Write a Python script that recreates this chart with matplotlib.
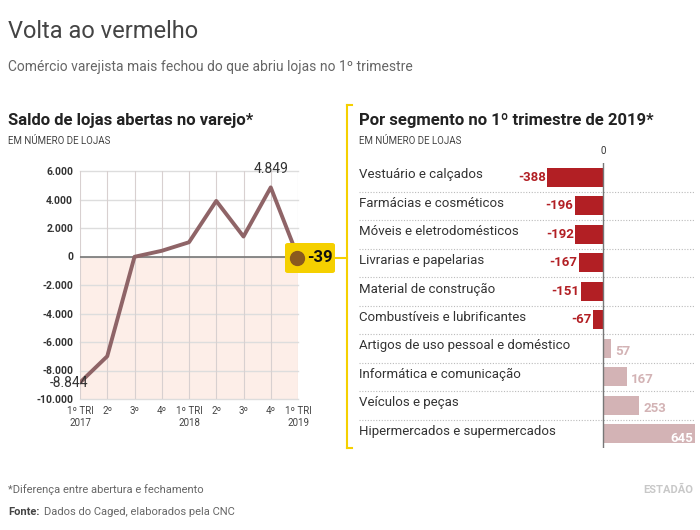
import matplotlib
matplotlib.use('Agg')
import matplotlib.pyplot as plt
from matplotlib.patches import FancyBboxPatch

plt.rcParams['font.family'] = ['Roboto', 'DejaVu Sans']

# quarterly balance
quarters = ['1º TRI\n2017', '2º', '3º', '4º', '1º TRI\n2018', '2º', '3º', '4º', '1º TRI\n2019']
saldo = [-8844, -7000, -20, 400, 1000, 3900, 1400, 4849, -39]
yticks = [6000, 4000, 2000, 0, -2000, -4000, -6000, -8000, -10000]
ylabels = ['6.000', '4.000', '2.000', '0', '-2.000', '-4.000', '-6.000', '-8.000', '-10.000']

# segments
segmentos = ['Vestuário e calçados', 'Farmácias e cosméticos', 'Móveis e eletrodomésticos',
             'Livrarias e papelarias', 'Material de construção', 'Combustíveis e lubrificantes',
             'Artigos de uso pessoal e doméstico', 'Informática e comunicação',
             'Veículos e peças', 'Hipermercados e supermercados']
valores = [-388, -196, -192, -167, -151, -67, 57, 167, 253, 645]

W, H = 700, 530
fig = plt.figure(figsize=(7, 5.3), dpi=100)

def fx(px): return px / W
def fy(py): return 1 - py / H

fig.text(fx(8), fy(32), 'Volta ao vermelho', fontsize=17, color='#444444', va='center')
fig.text(fx(8), fy(67), 'Comércio varejista mais fechou do que abriu lojas no 1º trimestre',
         fontsize=10, color='#666666', va='center')
fig.text(fx(8), fy(120), 'Saldo de lojas abertas no varejo*', fontsize=12, fontweight='bold', color='#222222', va='center')
fig.text(fx(8), fy(141), 'EM NÚMERO DE LOJAS', fontsize=7, color='#444444', va='center')
fig.text(fx(359), fy(120), 'Por segmento no 1º trimestre de 2019*', fontsize=12, fontweight='bold', color='#222222', va='center')
fig.text(fx(359), fy(141), 'EM NÚMERO DE LOJAS', fontsize=7, color='#444444', va='center')
fig.text(fx(8), fy(490), '*Diferença entre abertura e fechamento', fontsize=8, color='#666666', va='center')
fig.text(fx(8), fy(512), 'Fonte:', fontsize=8, fontweight='bold', color='#444444', va='center')
fig.text(fx(44), fy(512), 'Dados do Caged, elaborados pela CNC', fontsize=8, color='#666666', va='center')
fig.text(fx(693), fy(490), 'ESTADÃO', fontsize=8, fontweight='bold', color='#c8c8c8', va='center', ha='right')

# yellow divider
yel = '#f5d000'
fig.add_artist(plt.Line2D([fx(347), fx(347)], [fy(105), fy(448)], color=yel, lw=1.5))
fig.add_artist(plt.Line2D([fx(347), fx(352)], [fy(105), fy(105)], color=yel, lw=1.5))
fig.add_artist(plt.Line2D([fx(347), fx(352)], [fy(448), fy(448)], color=yel, lw=1.5))
fig.add_artist(plt.Line2D([fx(330), fx(347)], [fy(258), fy(258)], color=yel, lw=1.5))

# left chart
ax = fig.add_axes([fx(80), fy(399), fx(298) - fx(80), fy(171) - fy(399)])
x = list(range(len(saldo)))
ax.set_xlim(0, 8)
ax.set_ylim(-10000, 6000)
ax.axhspan(-10000, 0, color='#fdeee8', zorder=0)
for t in yticks:
    ax.axhline(t, color='#dddddd', lw=1, zorder=1, clip_on=False)
for i in x:
    ax.axvline(i, color='#d8d0d0', lw=0.8, zorder=1)
ax.axhline(0, color='#777777', lw=1.2, zorder=2)
ax.plot(x, saldo, color='#8f6467', lw=2.8, zorder=3, solid_capstyle='round')
ax.set_yticks(yticks)
ax.set_yticklabels(ylabels, fontsize=7.5, color='#333333', fontweight='bold')
ax.set_xticks(x)
ax.set_xticklabels(quarters, fontsize=7, color='#444444', linespacing=1.2)
ax.tick_params(length=0, pad=5)
for s in ax.spines.values():
    s.set_visible(False)
ax.annotate('-8.844', (0, saldo[0]), xytext=(-22, 0), textcoords='offset points',
            fontsize=10, color='#333333', ha='left', va='center')
ax.annotate('4.849', (7, saldo[7]), xytext=(0, 8), textcoords='offset points',
            fontsize=10, color='#333333', ha='center', va='bottom')
box = FancyBboxPatch((fx(285), fy(273)), fx(335) - fx(285), fy(243) - fy(273),
                     boxstyle='round,pad=0,rounding_size=0.004', transform=fig.transFigure,
                     facecolor=yel, edgecolor='none', zorder=5)
fig.add_artist(box)
fig.add_artist(plt.Line2D([fx(297)], [fy(258)], marker='o', ms=10, color='#8a5a1e', zorder=6))
fig.text(fx(307), fy(258), '-39', fontsize=12, fontweight='bold', color='#111111', va='center', zorder=7)

# right chart
ax2 = fig.add_axes([fx(359), fy(448), fx(695) - fx(359), fy(163) - fy(448)])
ax2.set_xlim(-1707, 645)
ax2.set_ylim(9.5, -0.5)
rows = list(range(len(valores)))
cols = ['#b21f24' if v < 0 else '#d3b3b5' for v in valores]
ax2.barh(rows, valores, height=0.68, color=cols, zorder=2)
ax2.axvline(0, color='#777777', lw=1, zorder=3)
for i in rows[:-1]:
    ax2.axhline(i + 0.5, color='#bbbbbb', lw=0.8, ls=(0, (1, 1.5)), zorder=1)
for i, (name, v) in enumerate(zip(segmentos, valores)):
    ax2.text(-1707, i - 0.08, name, fontsize=9.5, color='#333333', va='center', ha='left')
    if v < 0:
        ax2.text(v - 12, i, str(v), fontsize=9.5, fontweight='bold', color='#b21f24', va='center', ha='right')
    elif v > 500:
        ax2.text(v - 15, i + 0.15, str(v), fontsize=9.5, fontweight='bold', color='white',
                 va='center', ha='right', zorder=6)
    else:
        ax2.text(v + 30, i + 0.1, str(v), fontsize=9.5, fontweight='bold', color='#d3b3b5', va='center', ha='left')
ax2.text(0, -0.75, '0', fontsize=7, color='#333333', ha='center', va='bottom')
ax2.axis('off')

fig.savefig('out.png', dpi=100)
